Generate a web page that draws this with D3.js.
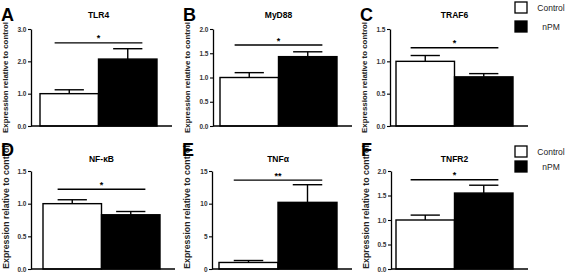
<!DOCTYPE html>
<html>
<head>
<meta charset="utf-8">
<script src="https://cdn.jsdelivr.net/npm/d3@7"></script>
<style>
  body { margin: 0; background: #fff; }
  svg { display: block; font-family: "Liberation Sans", Arial, sans-serif; }
</style>
</head>
<body>
<svg id="chart" width="567" height="278"></svg>
<script>
// Données
const panels = ["A", "B", "C", "D", "E", "F"];
const genes = ["TLR4", "MyD88", "TRAF6", "NF-κB", "TNFα", "TNFR2"];
const groups = ["Control", "nPM"];
const controlMean = [1.0, 1.0, 1.0, 1.0, 1.0, 1.0];
const controlErr = [0.12, 0.10, 0.09, 0.06, 0.3, 0.10];
const npmMean = [2.07, 1.43, 0.76, 0.83, 10.2, 1.55];
const npmErr = [0.32, 0.10, 0.05, 0.05, 2.7, 0.16];
const yMax = [3, 2, 1.5, 1.5, 15, 2];
const yStep = [1, 0.5, 0.5, 0.5, 5, 0.5];
const tickFormats = [".1f", ".1f", ".1f", ".1f", "d", ".1f"];
const sigLabel = ["*", "*", "*", "*", "**", "*"];
const sigLevel = [2.57, 1.67, 1.21, 1.22, 13.6, 1.82];

// Mise en page (pixels)
const layout = [
  { ax: 31, bx: 40, bw: 58.5, row: 0 },
  { ax: 213, bx: 220, bw: 58.5, row: 0 },
  { ax: 390, bx: 396, bw: 58.5, row: 0 },
  { ax: 31, bx: 43, bw: 58.5, row: 1 },
  { ax: 212, bx: 219, bw: 59, row: 1 },
  { ax: 391, bx: 396, bw: 58.5, row: 1 }
];
const rows = [
  { y0: 126, y1: 29, title: 18, letter: 21, legend: [2, 21], labelY: 77.5, labelSize: 7.9 },
  { y0: 269, y1: 171, title: 162, letter: 156, legend: [146, 161], labelY: 207, labelSize: 8.8 }
];

const svg = d3.select("#chart");

panels.forEach((p, i) => {
  const L = layout[i];
  const R = rows[L.row];
  const g = svg.append("g");

  const y = d3.scaleLinear().domain([0, yMax[i]]).range([R.y0, R.y1]);
  const x = d3.scaleBand().domain(groups)
    .range([L.bx, L.bx + 2 * L.bw]).paddingInner(0).paddingOuter(0);

  const bars = [
    { group: "Control", mean: controlMean[i], err: controlErr[i], fill: "#fff" },
    { group: "nPM", mean: npmMean[i], err: npmErr[i], fill: "#000" }
  ];

  // Titre de l'axe Y (dessous de la lettre)
  g.append("text")
    .attr("transform", `translate(${L.ax - 25.5},${R.labelY}) rotate(-90)`)
    .attr("text-anchor", "middle")
    .attr("dominant-baseline", "central")
    .attr("font-size", R.labelSize).attr("font-weight", "bold")
    .attr("fill", "#222")
    .text("Expression relative to control");

  // Barres d'erreur (vers le haut seulement)
  bars.forEach(b => {
    const cx = x(b.group) + x.bandwidth() / 2;
    const cap = x.bandwidth() / 4;
    g.append("line")
      .attr("x1", cx).attr("x2", cx)
      .attr("y1", y(b.mean)).attr("y2", y(b.mean + b.err))
      .attr("stroke", "#000").attr("stroke-width", 1.4);
    g.append("line")
      .attr("x1", cx - cap).attr("x2", cx + cap)
      .attr("y1", y(b.mean + b.err)).attr("y2", y(b.mean + b.err))
      .attr("stroke", "#000").attr("stroke-width", 1.4);
  });

  // Barres
  g.selectAll("rect.bar")
    .data(bars)
    .enter()
    .append("rect")
    .attr("class", "bar")
    .attr("x", d => x(d.group))
    .attr("y", d => y(d.mean))
    .attr("width", x.bandwidth())
    .attr("height", d => y(0) - y(d.mean))
    .attr("fill", d => d.fill)
    .attr("stroke", "#000")
    .attr("stroke-width", 1.4);

  // Axe Y
  const ticks = d3.range(0, yMax[i] + yStep[i] / 2, yStep[i]);
  const yAxis = g.append("g")
    .attr("transform", `translate(${L.ax},0)`)
    .call(d3.axisLeft(y).tickValues(ticks).tickFormat(d3.format(tickFormats[i]))
      .tickSize(3).tickSizeOuter(0).tickPadding(1.5));
  yAxis.select(".domain").attr("stroke-width", 1.3);
  yAxis.selectAll(".tick line").attr("stroke-width", 1.1);
  yAxis.selectAll(".tick text")
    .attr("font-size", 6.5).attr("font-weight", "bold")
    .attr("font-family", "Liberation Sans, Arial, sans-serif")
    .attr("fill", "#333");

  // Ligne de base
  g.append("line")
    .attr("x1", L.ax).attr("x2", x.range()[1] + 15)
    .attr("y1", y(0)).attr("y2", y(0))
    .attr("stroke", "#000").attr("stroke-width", 1.3);

  // Significativité
  const xs1 = x("Control") + x.bandwidth() / 4;
  const xs2 = x("nPM") + x.bandwidth() * 0.75;
  g.append("line")
    .attr("x1", xs1).attr("x2", xs2)
    .attr("y1", y(sigLevel[i])).attr("y2", y(sigLevel[i]))
    .attr("stroke", "#000").attr("stroke-width", 1.4);
  g.append("text")
    .attr("x", (xs1 + xs2) / 2)
    .attr("y", y(sigLevel[i]) - 1.5)
    .attr("text-anchor", "middle")
    .attr("font-size", 9).attr("font-weight", "bold")
    .text(sigLabel[i]);

  // Titre du panneau
  g.append("text")
    .attr("x", x.range()[0] + x.bandwidth())
    .attr("y", R.title)
    .attr("text-anchor", "middle")
    .attr("font-size", 8.5).attr("font-weight", "bold")
    .text(genes[i]);

  // Lettre
  g.append("text")
    .attr("x", L.ax - 30)
    .attr("y", R.letter)
    .attr("font-size", 18).attr("font-weight", "bold")
    .text(p);
});

// Légendes (une par rangée)
rows.forEach(R => {
  const lg = svg.append("g");
  groups.forEach((grp, k) => {
    lg.append("rect")
      .attr("x", 515).attr("y", R.legend[k])
      .attr("width", 12).attr("height", 11)
      .attr("fill", k === 0 ? "#fff" : "#000")
      .attr("stroke", "#000").attr("stroke-width", 1.3);
    lg.append("text")
      .attr("x", 551).attr("y", R.legend[k] + 5.5)
      .attr("dominant-baseline", "central")
      .attr("text-anchor", "middle")
      .attr("font-size", 8.5)
      .attr("fill", "#222")
      .text(grp);
  });
});
</script>
</body>
</html>
